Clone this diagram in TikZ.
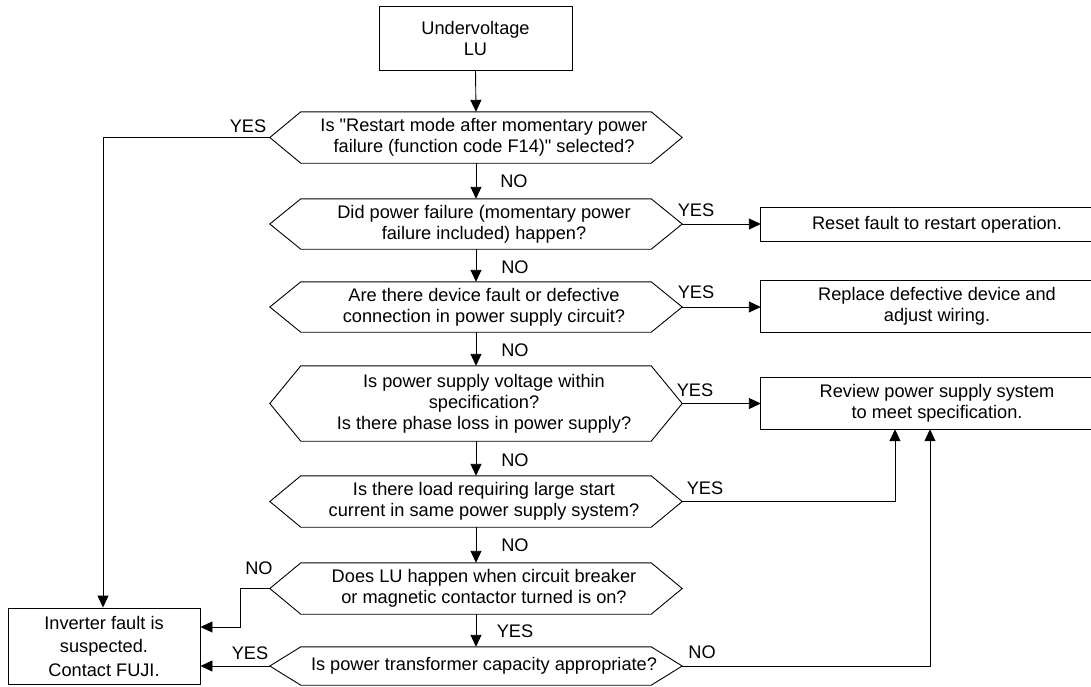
\documentclass[tikz,border=0pt]{standalone}
\usepackage{fontspec}
\newfontfamily\arialf{Liberation Sans}
\usetikzlibrary{arrows.meta,calc}
\tikzset{
  line/.style={draw=black, line width=0.9pt},
  arr/.style={line, -{Triangle[length=12pt,width=11pt]}},
  qtext/.style={draw=none, inner sep=0pt, minimum width=350pt, align=center, font=\arialf\fontsize{18.2}{21}\selectfont},
  btext/.style={draw=none, inner sep=0pt, align=center, font=\arialf\fontsize{18.2}{21}\selectfont},
  lbl/.style={inner sep=0pt, font=\arialf\fontsize{18.2}{21}\selectfont},
}
% hexagon: text node centred 8pt right of the shape's centre line (x=476)
\newcommand{\hexq}[4]{%
  \node[qtext, minimum height=#3pt] (#1) at (484,#2) {#4};
  \coordinate (#1NW) at ($(#1.north west)+(-8,0)$);
  \coordinate (#1NE) at ($(#1.north east)+(-8,0)$);
  \coordinate (#1SW) at ($(#1.south west)+(-8,0)$);
  \coordinate (#1SE) at ($(#1.south east)+(-8,0)$);
  \coordinate (#1L) at ($(#1.west)+(-39,0)$);
  \coordinate (#1R) at ($(#1.east)+(23,0)$);
  \coordinate (#1T) at ($(#1.north)+(-8,0)$);
  \coordinate (#1B) at ($(#1.south)+(-8,0)$);
  \draw[line] (#1NW) -- (#1NE) -- (#1R) -- (#1SE) -- (#1SW) -- (#1L) -- cycle;
}
\newcommand{\rbox}[4]{%
  \node[btext, minimum width=352pt, minimum height=#3pt] (#1) at (937,#2) {#4};
  \draw[line] (edgeR |- #1.north) -- (#1.north west) -- (#1.south west) -- (edgeR |- #1.south);
}
\begin{document}
\begin{tikzpicture}[x=1pt,y=-1pt]
\useasboundingbox (0,0) rectangle (1091,686);
\coordinate (edgeR) at (1091,0);
% start box
\node[btext, draw, line width=0.9pt, minimum width=193pt, minimum height=64pt] (start) at (475.5,38) {Undervoltage\\LU};
% questions
\hexq{h1}{137.5}{51}{Is "Restart mode after momentary power\\failure (function code F14)" selected?}
\hexq{h2}{224}{50}{Did power failure (momentary power\\failure included) happen?}
\hexq{h3}{307}{50}{Are there device fault or defective\\connection in power supply circuit?}
\hexq{h4}{403.5}{75}{Is power supply voltage within\\specification?\\Is there phase loss in power supply?}
\hexq{h5}{501.5}{51}{Is there load requiring large start\\current in same power supply system?}
\hexq{h6}{588.5}{51}{Does LU happen when circuit breaker\\or magnetic contactor turned is on?}
\hexq{h7}{666}{38}{Is power transformer capacity appropriate?}
% right boxes
\rbox{reset}{224.5}{33}{Reset fault to restart operation.}
\rbox{replace}{306.5}{51}{Replace defective device and\\adjust wiring.}
\rbox{review}{403.5}{51}{Review power supply system\\to meet specification.}
% inverter box
\node[btext, draw, line width=0.9pt, minimum width=192pt, minimum height=76pt, font=\arialf\fontsize{18.2}{23.5}\selectfont] (inv) at (104,646) {Inverter fault is\\suspected.\\Contact FUJI.};
% vertical flow
\draw[arr] (start.south) -- (h1T);
\draw[arr] (h1B) -- (h2T);
\draw[arr] (h2B) -- (h3T);
\draw[arr] (h3B) -- (h4T);
\draw[arr] (h4B) -- (h5T);
\draw[arr] (h5B) -- (h6T);
\draw[arr] (h6B) -- (h7T);
% right branches
\draw[arr] (h2R) -- (reset.west |- h2R);
\draw[arr] (h3R) -- (replace.west |- h3R);
\draw[arr] (h4R) -- (review.west |- h4R);
\coordinate (c5) at (895,0);
\coordinate (c7) at (930,0);
\draw[arr] (h5R) -- (c5 |- h5R) -- (c5 |- review.south);
\draw[arr] (h7R) -- (c7 |- h7R) -- (c7 |- review.south);
% left branches
\coordinate (c1) at (103,0);
\coordinate (c6) at (240,0);
\coordinate (c6b) at (0,627);
\draw[arr] (h1L) -- (c1 |- h1L) -- (c1 |- inv.north);
\draw[arr] (h6L) -- (c6 |- h6L) -- (c6 |- c6b) -- (inv.east |- c6b);
\draw[arr] (h7L) -- (inv.east |- h7L);
% labels
\node[lbl] (l1) at (248,126) {YES};
\node[lbl] (l2) at (514,181) {NO};
\node[lbl] (l3) at (696,210) {YES};
\node[lbl] (l4) at (515,267) {NO};
\node[lbl] (l5) at (696,292) {YES};
\node[lbl] (l6) at (515,350) {NO};
\node[lbl] (l7) at (695,390) {YES};
\node[lbl] (l8) at (515,460) {NO};
\node[lbl] (l9) at (705,488) {YES};
\node[lbl] (l10) at (515,545) {NO};
\node[lbl] (l11) at (259,568) {NO};
\node[lbl] (l12) at (515,631) {YES};
\node[lbl] (l13) at (250,653) {YES};
\node[lbl] (l14) at (702,652) {NO};
\end{tikzpicture}
\end{document}
